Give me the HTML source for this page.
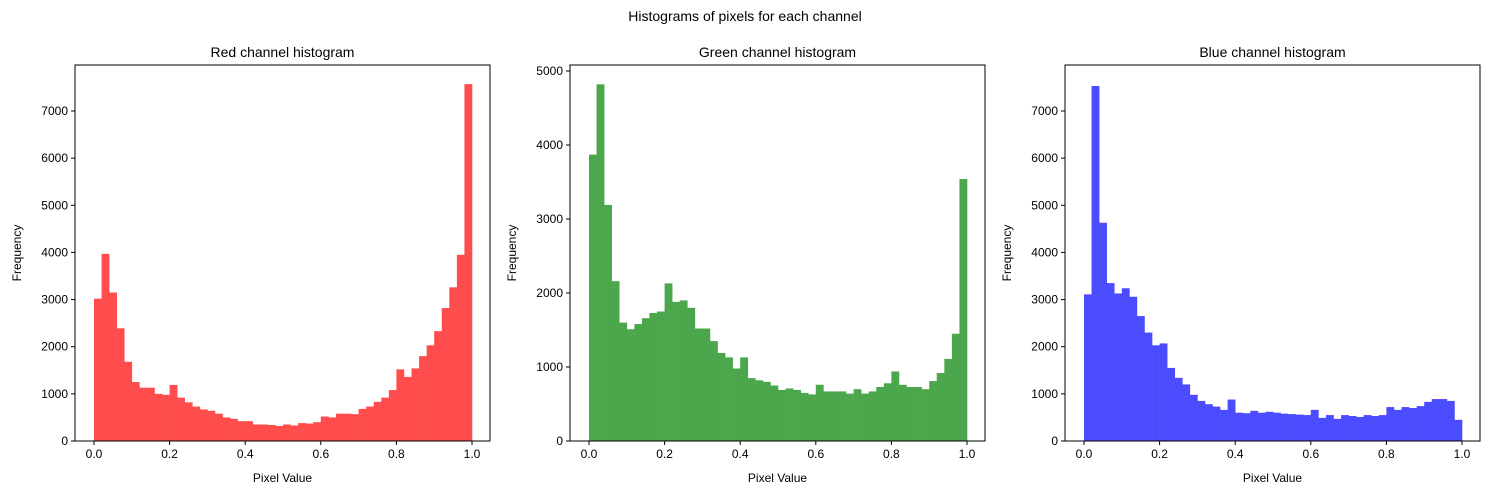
<!DOCTYPE html>
<html><head><meta charset="utf-8"><style>
body{margin:0;background:#fff;}
svg text{font-family:"Liberation Sans",sans-serif;fill:#000;}
</style></head><body>
<svg id="fig" width="1489" height="495" xmlns="http://www.w3.org/2000/svg">
<text x="745" y="21" font-size="14" text-anchor="middle">Histograms of pixels for each channel</text>
</svg>
<script>
const redCounts=[3020,3970,3150,2390,1680,1250,1130,1130,1000,980,1190,920,820,730,670,640,580,500,470,420,420,350,350,340,320,350,330,380,370,400,520,500,580,580,570,680,730,830,920,1080,1520,1360,1540,1800,2030,2330,2820,3260,3950,7570];
const greenCounts=[3870,4820,3190,2160,1600,1510,1580,1660,1730,1750,2130,1880,1900,1800,1520,1520,1350,1190,1130,980,1130,850,820,800,750,690,710,690,650,630,760,670,670,670,640,700,640,670,730,780,940,760,730,730,700,810,920,1110,1450,3540];
const blueCounts=[3110,7530,4630,3350,3130,3240,3060,2650,2300,2030,2070,1550,1340,1200,980,850,780,730,660,880,600,590,640,600,620,600,580,570,560,550,660,490,550,470,550,530,510,550,530,550,720,660,720,700,740,830,890,890,850,450];
const xTicks=[0,0.2,0.4,0.6,0.8,1.0];
const xTickLabels=["0.0","0.2","0.4","0.6","0.8","1.0"];
const redYTicks=[0,1000,2000,3000,4000,5000,6000,7000];
const greenYTicks=[0,1000,2000,3000,4000,5000];
const blueYTicks=[0,1000,2000,3000,4000,5000,6000,7000];
const NS="http://www.w3.org/2000/svg";
const svg=document.getElementById('fig');
function mk(tag,attrs,parent){const e=document.createElementNS(NS,tag);for(const k in attrs)e.setAttribute(k,attrs[k]);(parent||svg).appendChild(e);return e;}
function panel(key,left,title,counts,yTicks,yMaxVal,yMaxPix,color){
  const top=65,bottom=441,right=left+415;
  const g=mk('g',{});
  
  
  const xs=v=>left+19+v*378;
  const ys=v=>bottom-v*(bottom-yMaxPix)/yMaxVal;
  const n=counts.length;
  counts.forEach((c,i)=>{
    const x0=xs(i/n),x1=xs((i+1)/n);
    const r=mk('rect',{x:x0,y:ys(c),width:x1-x0+0.3,height:bottom-ys(c),fill:color},g);
    
    
  });
  const frame=mk('rect',{x:left,y:top,width:415,height:bottom-top,fill:'none',stroke:'#000','stroke-width':1},g);
  
  
  xTicks.forEach((t,i)=>{
    const x=xs(t);
    mk('line',{x1:x,x2:x,y1:bottom,y2:bottom+4,stroke:'#000'},g);
    const tx=mk('text',{x:x,y:bottom+17,'font-size':12,'text-anchor':'middle'},g);
    tx.textContent=xTickLabels[i];
    
    
  });
  yTicks.forEach(t=>{
    const y=ys(t);
    mk('line',{x1:left-4,x2:left,y1:y,y2:y,stroke:'#000'},g);
    const tx=mk('text',{x:left-7,y:y+4,'font-size':12,'text-anchor':'end'},g);
    tx.textContent=String(t);
    
    
  });
  const tt=mk('text',{x:left+207.5,y:57,'font-size':14,'text-anchor':'middle'},g);
  tt.textContent=title;
  
  
  const xl=mk('text',{x:left+207.5,y:482,'font-size':12,'text-anchor':'middle'},g);
  xl.textContent='Pixel Value';
  
  
  const yl=mk('text',{x:0,y:0,'font-size':12,'text-anchor':'middle',transform:`translate(${left-54},253) rotate(-90)`},g);
  yl.textContent='Frequency';
  
  
}
panel('red',75,'Red channel histogram',redCounts,redYTicks,7000,111,'#ff4c4c');
panel('green',570,'Green channel histogram',greenCounts,greenYTicks,5000,71,'#4ca64c');
panel('blue',1065,'Blue channel histogram',blueCounts,blueYTicks,7000,111,'#4c4cff');
</script>
</body></html>
